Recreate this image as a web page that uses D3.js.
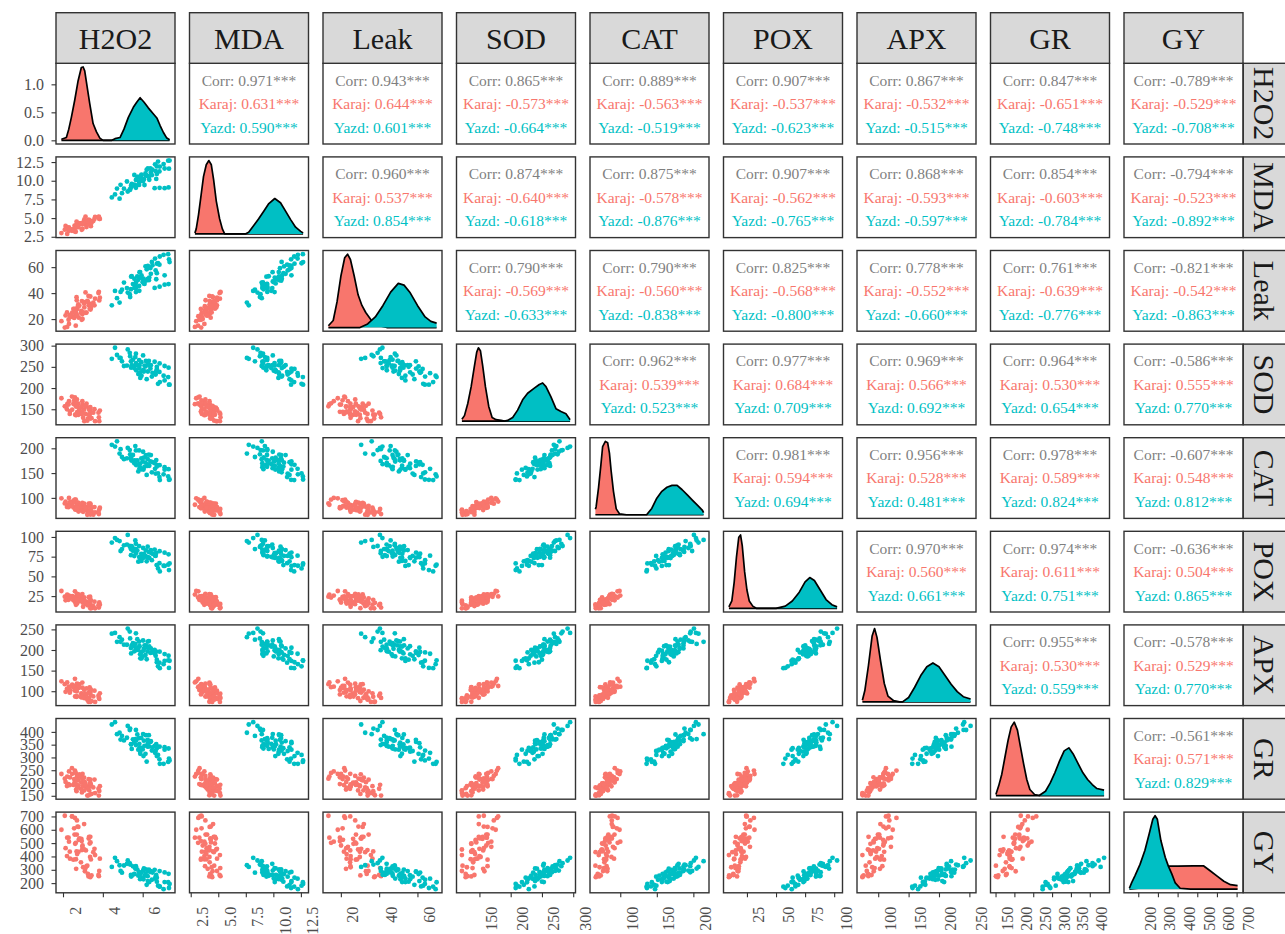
<!DOCTYPE html>
<html>
<head>
<meta charset="utf-8">
<script src="https://cdn.jsdelivr.net/npm/d3@7"></script>
<style>
  body { margin: 0; background: #ffffff; }
  svg { display: block; }
</style>
</head>
<body>
<svg id="chart" width="1285" height="934"></svg>
<script>
// ---------- data ----------
const variables = ["H2O2", "MDA", "Leak", "SOD", "CAT", "POX", "APX", "GR", "GY"];
const groups = ["Karaj", "Yazd"];
const groupColors = ["#F8766D", "#00BFC4"];

// Karaj measurements (one entry per sample, same order in every array)
const karajH2O2 = [2.60,2.09,2.30,1.92,2.45,2.21, 2.28,2.97,2.46,2.64,2.13,2.70, 2.77,2.35,2.98,2.92,2.56,2.20, 2.34,2.82,2.58,3.18,2.94,2.73, 3.06,3.15,2.52,2.79,3.36,2.61, 2.90,2.69,3.38,2.78,2.66,3.29, 3.37,2.65,2.95,3.10,3.34,2.71, 3.01,3.31,3.40,2.68,3.25,3.58, 3.85,3.28,3.07,3.52,3.13,3.43, 3.37,3.82,3.80,3.61,3.22,3.78];
const karajMDA = [3.19,3.45,3.74,3.00,3.30,2.88, 3.28,4.20,3.50,3.17,3.94,3.83, 4.22,3.44,3.59,4.33,3.48,3.74, 3.51,4.28,3.99,3.80,3.43,4.32, 4.53,4.12,3.42,4.31,4.20,3.83, 4.22,3.85,4.34,3.78,4.04,4.78, 4.59,3.73,4.22,4.48,4.70,3.92, 4.40,4.70,3.92,4.51,4.26,4.88, 4.89,4.19,4.82,4.60,5.18,4.37, 4.45,4.89,5.20,5.15,4.63,5.12];
const karajLeak = [22.2,13.5,16.3,18.4,21.8,14.0, 19.5,23.7,24.9,14.9,22.8,27.5, 31.4,23.0,20.1,26.4,20.9,25.1, 21.6,30.4,27.9,25.0,19.5,29.2, 32.0,24.9,27.8,21.1,29.9,26.6, 24.8,34.5,27.4,29.9,22.7,30.7, 31.0,25.1,33.9,33.1,28.0,23.0, 25.1,31.8,28.5,36.9,33.5,30.6, 36.5,37.8,29.0,32.7,40.5,30.2, 37.4,34.4,41.0,35.7,34.0,40.0];
const karajSOD = [178,157,169,176,180,162, 161,169,149,164,157,173, 163,145,161,155,171,150, 139,150,161,163,144,157, 149,156,163,144,152,137, 140,163,145,137,156,154, 155,136,139,158,137,143, 130,149,142,137,128,150, 147,137,122,142,139,129, 128,122,131,122,123,142];
const karajCAT = [96.3,88.8,100,99.0,92.5,86.1, 81.4,90.0,85.7,96.5,92.2,88.4, 89.8,91.5,80.1,85.0,95.2,81.7, 83.4,79.6,92.1,81.3,79.1,90.4, 88.4,75.4,80.8,83.5,87.9,76.5, 78.3,83.7,85.3,72.3,82.6,88.5, 88.6,77.8,74.0,82.1,75.1,80.5, 71.8,83.1,79.9,76.1,69.1,81.5, 80.3,71.1,74.9,66.2,77.6,73.3, 66.5,76.5,67.3,70.6,66.0,71.6];
const karajPOX = [31,24.3,25.7,31.5,24.6,27.0, 20.4,27.6,24.8,23.1,19.7,27.9, 27.1,23.4,16.9,25.1,24.1,20.7, 22.1,18.7,23.1,18.0,20.4,27.2, 23.2,15.4,19.8,22.2,24.2,17.1, 19.3,22.0,14.8,20.3,17.9,23.7, 20.3,13.9,19.7,17.6,23.4,15.6, 11.5,15.5,19.6,20.3,13.2,17.9, 14.1,16.5,19.2,12.4,15.1,9.7, 9.5,16.9,10.5,9.5,14.6,13.5];
const karajAPX = [130,117.0,111.0,123.9,112.7,121.3, 102.8,120.9,115.7,109.7,98.5,118.3, 117.0,102.4,108.4,94.7,112.7,105.8, 96.5,116.3,101.7,106.8,92.2,108.6, 103.6,91.5,109.6,107.9,97.6,87.2, 85.7,99.5,92.6,109.8,102.9,96.9, 100.5,103.0,85.0,92.7,109.1,87.6, 90.1,84.1,103.8,86.6,83.2,101.3, 95.0,74.4,83.0,87.3,94.1,76.1, 74.0,81.2,83.8,74.0,79.5,89.0];
const karajGR = [248.8,216.9,245.4,235.3,258,225.3, 195.8,216.0,236.1,239.5,204.2,227.7, 210.1,221.9,235.3,201.7,215.2,188.3, 192.1,234.1,202.2,187.0,222.3,217.3, 221.0,185.7,192.4,226.0,187.4,199.1, 177.6,212.9,199.5,191.1,174.3,214.6, 213.3,194.9,163.0,203.3,198.2,181.4, 188.1,171.3,193.1,167.9,179.7,213.3, 187.6,152,170.8,182.6,192.7,157.4, 155.7,169.2,151,160.8,151,177.6];
const karajGY = [689,705,511,600,700,541, 541,472,700,502,462,670, 621,383,482,532,611,403, 436,535,564,327,515,624, 643,445,376,525,396,495, 356,564,505,435,307,534, 547,379,448,289,497,418, 319,547,378,438,269,457, 383,250,452,432,313,258, 245,291,252,410,331,261];

// Yazd measurements
const yazdH2O2 = [5.25,4.45,4.71,5.35,4.61,4.84, 4.96,5.63,5.37,5.21,4.89,5.66, 6.02,5.66,5.06,5.82,5.73,5.41, 5.83,5.51,5.93,5.45,5.67,6.31, 6.16,5.42,5.84,6.06,6.25,5.58, 6.00,6.25,5.58,6.09,5.87,6.41, 6.39,5.78,6.33,6.14,6.68,5.94, 5.88,6.26,6.65,6.71,6.04,6.49, 6.62,6.84,7.10,6.46,6.71,6.20, 6.86,7.35,7.05,6.77,7.32,7.28, 6.60,6.85,7.10,7.30];
const yazdMDA = [8.56,7.77,8.95,8.84,8.17,7.60, 8.33,9.23,8.78,9.90,9.45,9.06, 9.95,10.11,8.94,9.44,10.51,9.11, 9.81,9.42,10.70,9.58,9.36,10.54, 10.71,9.37,9.93,10.21,10.65,9.48, 10.04,10.60,10.77,9.43,10.49,11.11, 11.64,10.52,10.13,10.97,10.24,10.80, 10.46,11.64,11.30,10.91,10.18,11.47, 12.20,11.25,11.64,10.75,11.92,11.47, 11.89,12.70,12.23,12.56,11.61,12.68, 9.00,9.05,9.00,9.10];
const yazdLeak = [40.4,30.6,36.1,39.2,41.7,32.7, 42.6,46.0,37.0,43.9,40.9,48.2, 49.0,40.8,48.1,45.5,52.9,43.0, 41.8,47.0,52.1,53.0,44.0,50.0, 49.6,52.7,56.1,47.5,50.9,44.0, 48.4,59.2,51.0,47.1,56.2,54.9, 59.3,50.3,52.0,60.6,50.7,53.7, 51.9,61.0,57.5,55.4,51.1,61.4, 66.6,61.9,53.7,64.0,62.7,58.4, 68.2,63.9,69.5,63.0,66.0,70.0, 44.0,45.0,46.5,47.0];
const yazdSOD = [291,269,278,283,295,271, 263,273,275,253,271,281, 277,259,252,266,254,263, 247,267,261,254,242,264, 264,248,254,239,259,252, 241,263,247,253,237,254, 246,233,253,251,240,229, 224,239,232,250,243,236, 235,238,218,227,245,221, 214,208,229,210,208,226, 262,258,252,248];
const yazdCAT = [200.8,207.0,214.0,196.4,203.5,189.4, 182.5,204.5,187.8,179.8,198.3,195.7, 193.1,174.6,178.1,195.7,175.5,181.6, 168.0,186.5,179.5,175.1,166.3,187.4, 186.4,176.8,160.0,181.2,178.5,169.7, 173.2,164.4,175.8,162.6,168.8,186.4, 173.6,153.4,164.8,171.0,176.3,157.8, 160.5,167.6,149.1,163.2,157.0,172.0, 158.7,142.0,156.9,151.6,166.6,146.4, 136.0,137.1,147.6,149.4,136.5,143.2, 170,166,162,158];
const yazdPOX = [102.5,92.8,96.2,88.5,98.6,94.7, 84.6,95.6,87.4,90.3,82.2,91.3, 86.0,79.3,89.4,88.4,82.7,76.9, 74.8,82.5,78.6,88.2,84.4,81.0, 82.9,84.3,74.2,78.6,87.7,75.7, 77.0,73.7,84.7,75.1,73.2,83.3, 80.2,68.7,73.5,75.9,79.7,69.6, 69.6,74.4,75.9,64.3,73.5,78.7, 76.3,66.7,63.3,70.5,64.3,69.1, 56.3,66.4,63.5,60.1,58.0,64.9, 84,82,80,78];
const yazdAPX = [252,239.5,219.9,244.6,241.5,231.2, 225.1,214.8,228.2,212.7,219.9,240.5, 223.1,199.5,212.8,220.1,226.2,204.6, 208.2,216.4,194.8,211.3,204.1,221.6, 211.2,191.6,209.1,202.9,220.5,196.8, 184.3,196.7,209.0,211.1,189.5,203.9, 193.0,200.3,208.5,187.9,196.1,179.6, 179.7,205.5,185.9,176.6,198.3,195.2, 190.9,169.3,173.4,194.0,170.3,177.5, 156.0,173.9,165.6,160.5,156.5,174.9, 200,196,190,186];
const yazdGR = [423.4,428.8,391.2,407.3,438,396.6, 384.2,371.7,412.9,377.1,369.9,407.5, 391.5,348.5,366.4,375.4,389.7,352.1, 353.1,371.0,376.3,333.4,367.4,387.1, 387.0,351.1,338.6,365.5,342.2,360.1, 331.3,368.9,358.2,345.6,322.4,363.5, 360.9,330.4,343.0,314.3,351.9,337.6, 314.5,355.7,325.2,336.0,305.5,339.5, 317.9,292.8,330.4,326.8,305.3,283.9, 275,288.2,275,309.7,295.4,282.8, 345,342,340,335];
const yazdGY = [369.6,321.5,364.5,349.3,390,334.2, 278.7,309.1,339.4,344.5,291.4,326.8, 294.1,311.9,332.1,281.5,301.7,261.2, 262.6,325.9,277.8,255.0,308.2,300.6, 302.8,249.7,259.8,310.4,252.2,269.9, 234.3,287.5,267.2,254.6,229.3,290.0, 283.8,256.0,207.9,268.6,261.0,235.7, 241.0,215.7,248.6,210.6,228.3,278.9, 233.1,175.0,207.8,225.5,240.7,187.6, 173.6,193.8,155,181.2,163.5,206.5, 300,290,280,270];

// density estimates per group: [value, density]
const densH2O2Karaj = [[1.92,0.02],[2.17,0.05],[2.29,0.2],[2.42,0.41],[2.59,0.72],[2.75,1.05],[2.92,1.30],[3.01,1.31],[3.09,1.24],[3.21,0.96],[3.34,0.66],[3.51,0.30],[3.68,0.15],[3.85,0.04],[4.01,0],[7.35,0]];
const densH2O2Yazd  = [[1.92,0],[4.45,0],[4.61,0.03],[4.86,0.05],[5.06,0.2],[5.28,0.41],[5.53,0.59],[5.70,0.68],[5.87,0.76],[6.07,0.68],[6.28,0.58],[6.54,0.47],[6.71,0.40],[6.88,0.26],[7.04,0.14],[7.21,0.04],[7.35,0.01]];
const densMDAKaraj  = [[2.88,0.01],[3.00,0.06],[3.21,0.23],[3.45,0.47],[3.66,0.68],[3.91,0.82],[4.15,0.87],[4.37,0.82],[4.58,0.64],[4.82,0.39],[5.12,0.18],[5.37,0.06],[5.58,0],[12.70,0]];
const densMDAYazd   = [[2.88,0],[7.46,0],[7.76,0.02],[8.22,0.10],[8.67,0.18],[9.13,0.27],[9.59,0.36],[10.13,0.42],[10.65,0.37],[11.11,0.27],[11.57,0.17],[12.02,0.08],[12.48,0.03],[12.70,0.012]];
const densLeakKaraj = [[13.5,0.002],[16,0.008],[18,0.029],[20,0.058],[22,0.079],[23.5,0.083],[25,0.077],[27,0.058],[29,0.037],[31,0.025],[33,0.017],[36,0.008],[40,0.002],[44,0],[70,0]];
const densLeakYazd  = [[13.5,0],[30,0],[34,0.004],[38,0.012],[42,0.025],[46,0.040],[50,0.050],[53,0.048],[56,0.040],[60,0.025],[64,0.012],[67,0.007],[70,0.005]];
const densSODKaraj  = [[122,0.001],[126.1,0.003],[131.4,0.0096],[136.8,0.0188],[142,0.03],[145.7,0.0376],[148.4,0.04],[151.6,0.0384],[155.3,0.03],[159.6,0.0188],[164.9,0.008],[170.3,0.002],[176.6,0.0008],[184.6,0.0004],[190,0],[295,0]];
const densSODYazd   = [[122,0],[190,0],[195.2,0.0004],[203.2,0.002],[211.1,0.006],[219.1,0.0116],[227.1,0.0152],[237.8,0.018],[245.8,0.02],[251.1,0.0208],[256.4,0.0188],[264.4,0.0132],[272.4,0.0068],[280.4,0.0052],[288.4,0.004],[295,0.0008]];
const densCATKaraj  = [[66,0.005],[67,0.0073],[70.3,0.0247],[73.6,0.046],[75.9,0.062],[79.6,0.0667],[82.8,0.0654],[85.2,0.056],[87.5,0.04],[90.7,0.0213],[94.5,0.0053],[99.1,0.0007],[108.4,0],[214,0]];
const densCATYazd   = [[66,0],[136.1,0],[143.1,0.0057],[150,0.015],[156.9,0.0213],[163.9,0.025],[170.8,0.0267],[177.8,0.0267],[184.7,0.0227],[191.7,0.018],[198.6,0.0133],[205.5,0.0087],[212.5,0.004],[214,0.002]];
const densPOXKaraj  = [[9.5,0.002],[12,0.01],[14,0.035],[16,0.07],[18,0.097],[19.5,0.1],[21,0.085],[23,0.05],[25,0.025],[27,0.01],[30,0.003],[33,0],[102.5,0]];
const densPOXYazd   = [[9.5,0],[50,0],[58,0.003],[64,0.01],[70,0.022],[75,0.036],[79,0.042],[83,0.038],[88,0.025],[93,0.012],[98,0.005],[102.5,0.002]];
const densAPXKaraj  = [[74,0.001],[78,0.007],[84,0.0225],[90,0.0405],[94,0.045],[98,0.0396],[104,0.0248],[110,0.0113],[116,0.0036],[125,0.0009],[135,0],[252,0]];
const densAPXYazd   = [[74,0],[140,0],[150,0.0027],[160,0.009],[170,0.0162],[180,0.0216],[190,0.0239],[200,0.0216],[210,0.0162],[220,0.0108],[230,0.0063],[240,0.0032],[252,0.0018]];
const densGRKaraj   = [[151,0.0003],[158.4,0.0029],[166.6,0.0064],[174.8,0.0114],[183.2,0.0165],[191.4,0.0205],[199.6,0.022],[208.1,0.0196],[216.3,0.0145],[224.5,0.0095],[232.9,0.0048],[241.1,0.0018],[253.5,0.0003],[265.9,0],[438,0]];
const densGRYazd    = [[151,0],[265.9,0],[282.5,0.0013],[294.9,0.0037],[307.3,0.0068],[319.7,0.0103],[332.1,0.0134],[344.5,0.0143],[356.9,0.0123],[369.4,0.0095],[381.8,0.0068],[394.2,0.0048],[406.6,0.0033],[419,0.0021],[438,0.0016]];
const densGYKaraj   = [[155,0],[200,0.0001],[240,0.0005],[270,0.0014],[300,0.0022],[330,0.0026],[400,0.00261],[480,0.00264],[533,0.00262],[567,0.00205],[601,0.00147],[635,0.00089],[669,0.0005],[705,0.00039]];
const densGYYazd    = [[155,0.0001],[166,0.0007],[183,0.0015],[209,0.0028],[234,0.0044],[256,0.0063],[274,0.0079],[285.5,0.0083],[297,0.0079],[315,0.0055],[337,0.0036],[353,0.0026],[371,0.0017],[388,0.0007],[413,0.0001],[465,0],[705,0]];

// correlations for the upper panels, row by row
const corrOverall = [0.971,0.943,0.865,0.889,0.907,0.867,0.847,-0.789,
                     0.960,0.874,0.875,0.907,0.868,0.854,-0.794,
                     0.790,0.790,0.825,0.778,0.761,-0.821,
                     0.962,0.977,0.969,0.964,-0.586,
                     0.981,0.956,0.978,-0.607,
                     0.970,0.974,-0.636,
                     0.955,-0.578,
                     -0.561];
const corrKaraj = [0.631,0.644,-0.573,-0.563,-0.537,-0.532,-0.651,-0.529,
                   0.537,-0.640,-0.578,-0.562,-0.593,-0.603,-0.523,
                   -0.569,-0.560,-0.568,-0.552,-0.639,-0.542,
                   0.539,0.684,0.566,0.530,0.555,
                   0.594,0.528,0.589,0.548,
                   0.560,0.611,0.504,
                   0.530,0.529,
                   0.571];
const corrYazd = [0.590,0.601,-0.664,-0.519,-0.623,-0.515,-0.748,-0.708,
                  0.854,-0.618,-0.876,-0.765,-0.597,-0.784,-0.892,
                  -0.633,-0.838,-0.800,-0.660,-0.776,-0.863,
                  0.523,0.709,0.692,0.654,0.770,
                  0.694,0.481,0.824,0.812,
                  0.661,0.751,0.865,
                  0.559,0.770,
                  0.829];
const corrStars = "***";

// axis ticks
const ticksDensity = [0, 0.5, 1.0];
const ticksH2O2 = [2, 4, 6];
const ticksMDA = [2.5, 5.0, 7.5, 10.0, 12.5];
const ticksLeak = [20, 40, 60];
const ticksSOD = [150, 200, 250, 300];
const ticksCAT = [100, 150, 200];
const ticksPOX = [25, 50, 75, 100];
const ticksAPX = [100, 150, 200, 250];
const ticksGR = [150, 200, 250, 300, 350, 400];
const ticksGY = [200, 300, 400, 500, 600, 700];

// ---------- layout ----------
const panelLeft = 56, colStep = 133.5, panelW = 119;
const panelTop = 63.3, rowStep = 93.6, panelH = 80.7;
const stripTop = 12.7;
const stripRightX = 1243.3;
const font = "'Liberation Serif', 'Times New Roman', serif";
const tickColor = "#333333", labelColor = "#4d4d4d", frameColor = "#333333";

const karajCols = [karajH2O2, karajMDA, karajLeak, karajSOD, karajCAT, karajPOX, karajAPX, karajGR, karajGY];
const yazdCols = [yazdH2O2, yazdMDA, yazdLeak, yazdSOD, yazdCAT, yazdPOX, yazdAPX, yazdGR, yazdGY];
const toRows = cols => cols[0].map((_, r) => cols.map(c => c[r]));
const karajObs = toRows(karajCols);
const yazdObs = toRows(yazdCols);

const densities = [
  [densH2O2Karaj, densH2O2Yazd], [densMDAKaraj, densMDAYazd], [densLeakKaraj, densLeakYazd],
  [densSODKaraj, densSODYazd], [densCATKaraj, densCATYazd], [densPOXKaraj, densPOXYazd],
  [densAPXKaraj, densAPXYazd], [densGRKaraj, densGRYazd], [densGYKaraj, densGYYazd]
];
const ticksByVar = [ticksH2O2, ticksMDA, ticksLeak, ticksSOD, ticksCAT, ticksPOX, ticksAPX, ticksGR, ticksGY];
const formatByVar = variables.map(v => v === "MDA" ? d3.format(".1f") : d3.format("~g"));

const groupObs = [karajObs, yazdObs];
const allObs = karajObs.concat(yazdObs);

function varScale(j, r0, r1) {
  const ext = d3.extent(allObs, d => d[j]);
  const pad = (ext[1] - ext[0]) * 0.05;
  return d3.scaleLinear().domain([ext[0] - pad, ext[1] + pad]).range([r0, r1]);
}
const xs = variables.map((v, j) => varScale(j, 0, panelW));
const ys = variables.map((v, j) => varScale(j, panelH, 0));
const dens = densities.map(pair => {
  const m = d3.max(pair, arr => d3.max(arr, d => d[1]));
  return d3.scaleLinear().domain([-0.05 * m, 1.05 * m]).range([panelH, 0]);
});

const svg = d3.select("#chart");
svg.append("rect").attr("width", 1285).attr("height", 934).attr("fill", "#ffffff");

const n = variables.length;
let k = 0;
const corrIndex = {};
for (let i = 0; i < n; i++) for (let j = i + 1; j < n; j++) corrIndex[i + "," + j] = k++;

const fmt3 = v => v.toFixed(3);

for (let i = 0; i < n; i++) {
  for (let j = 0; j < n; j++) {
    const g = svg.append("g")
      .attr("transform", `translate(${panelLeft + j * colStep},${panelTop + i * rowStep})`);
    g.append("rect").attr("width", panelW).attr("height", panelH).attr("fill", "#ffffff");

    if (i === j) {
      const x = xs[j], y = dens[j];
      densities[j].forEach((arr, gi) => {
        g.append("path").datum(arr)
          .attr("d", d3.area().x(d => x(d[0])).y0(y(0)).y1(d => y(d[1])))
          .attr("fill", groupColors[gi]);
        g.append("path").datum(arr)
          .attr("d", d3.line().x(d => x(d[0])).y(d => y(d[1])))
          .attr("fill", "none").attr("stroke", "#000000").attr("stroke-width", 1.7)
          .attr("stroke-linejoin", "round");
      });
    } else if (i > j) {
      const x = xs[j], y = ys[i];
      groupObs.forEach((rows, gi) => {
        g.selectAll(null).data(rows).join("circle")
          .attr("cx", d => x(d[j])).attr("cy", d => y(d[i]))
          .attr("r", 2.4).attr("fill", groupColors[gi]);
      });
    } else {
      const idx = corrIndex[i + "," + j];
      const lines = [
        { label: "Corr: " + fmt3(corrOverall[idx]) + corrStars, color: "#7f7f7f" },
        { label: groups[0] + ": " + fmt3(corrKaraj[idx]) + corrStars, color: groupColors[0] },
        { label: groups[1] + ": " + fmt3(corrYazd[idx]) + corrStars, color: groupColors[1] }
      ];
      g.selectAll(null).data(lines).join("text")
        .attr("x", panelW / 2).attr("y", (d, li) => panelH / 2 + (li - 1) * 23.5)
        .attr("dy", "0.35em").attr("text-anchor", "middle")
        .attr("font-family", font).attr("font-size", 15.5)
        .attr("fill", d => d.color).text(d => d.label);
    }

    g.append("rect").attr("width", panelW).attr("height", panelH)
      .attr("fill", "none").attr("stroke", frameColor).attr("stroke-width", 1.4);

    // left axis
    if (j === 0) {
      const scale = i === 0 ? dens[0] : ys[i];
      const ticks = i === 0 ? ticksDensity : ticksByVar[i];
      const f = i === 0 ? d3.format(".1f") : formatByVar[i];
      const ax = g.append("g").call(d3.axisLeft(scale).tickValues(ticks).tickFormat(f)
        .tickSize(4.5).tickPadding(7.5));
      ax.select(".domain").remove();
      ax.selectAll("line").attr("stroke", tickColor).attr("stroke-width", 1.1);
      ax.selectAll("text").attr("font-family", font).attr("font-size", 16).attr("fill", labelColor);
    }
    // bottom axis
    if (i === n - 1) {
      const ax = g.append("g").attr("transform", `translate(0,${panelH})`)
        .call(d3.axisBottom(xs[j]).tickValues(ticksByVar[j]).tickFormat(formatByVar[j]).tickSize(4.5));
      ax.select(".domain").remove();
      ax.selectAll("line").attr("stroke", tickColor).attr("stroke-width", 1.1);
      ax.selectAll("text")
        .attr("transform", "rotate(-90)")
        .attr("text-anchor", "end")
        .attr("x", -14).attr("y", 17).attr("dy", 0)
        .attr("font-family", font).attr("font-size", 16).attr("fill", labelColor);
    }
  }
}

// top strips
variables.forEach((v, j) => {
  const g = svg.append("g").attr("transform", `translate(${panelLeft + j * colStep},${stripTop})`);
  const h = panelTop - stripTop;
  g.append("rect").attr("width", panelW).attr("height", h)
    .attr("fill", "#d9d9d9").attr("stroke", frameColor).attr("stroke-width", 1.4);
  g.append("text").attr("x", panelW / 2).attr("y", h / 2).attr("dy", "0.36em")
    .attr("text-anchor", "middle").attr("font-family", font).attr("font-size", 30)
    .attr("fill", "#1a1a1a").text(v);
});

// right strips
variables.forEach((v, i) => {
  const g = svg.append("g").attr("transform", `translate(${stripRightX},${panelTop + i * rowStep})`);
  g.append("rect").attr("width", 44).attr("height", panelH)
    .attr("fill", "#d9d9d9").attr("stroke", frameColor).attr("stroke-width", 1.4);
  g.append("text").attr("transform", `translate(21,${panelH / 2}) rotate(90)`)
    .attr("dy", "0.33em").attr("text-anchor", "middle").attr("font-family", font)
    .attr("font-size", 30).attr("fill", "#1a1a1a").text(v);
});
</script>
</body>
</html>
